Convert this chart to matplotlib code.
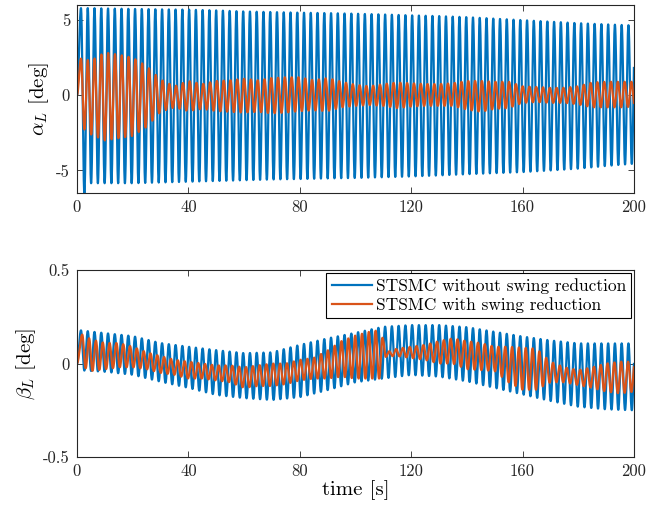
import numpy as np
import matplotlib
matplotlib.use("Agg")
import matplotlib.pyplot as plt

# ---- values ----
# alpha_L, without swing reduction (blue): peak / trough envelope [deg]
alpha_blue_t = [0, 3, 5, 10, 20, 30, 40, 50, 60, 70, 80, 90, 100, 110, 120, 130, 140, 150, 160, 170, 180, 190, 200]
alpha_blue_up = [5.8, 5.8, 5.8, 5.78, 5.75, 5.72, 5.7, 5.65, 5.58, 5.54, 5.5, 5.47, 5.43, 5.38, 5.32, 5.27, 5.2, 5.1, 5.0, 4.9, 4.8, 4.72, 4.65]
alpha_blue_lo = [-6.5, -6.5, -5.85, -5.85, -5.85, -5.8, -5.75, -5.7, -5.65, -5.6, -5.57, -5.53, -5.5, -5.45, -5.4, -5.33, -5.25, -5.18, -5.11, -5.0, -4.88, -4.7, -4.55]

# alpha_L, with swing reduction (orange)
alpha_or_t = list(range(0, 205, 5))
alpha_or_up = [2.5, 2.3, 2.85, 2.7, 2.5, 1.95, 1.05, 0.6, 0.95, 0.75, 0.95, 1.0, 1.1, 1.0, 1.15, 1.2, 1.2, 1.0, 1.15, 0.9, 0.7,
               0.6, 0.75, 0.85, 0.8, 0.75, 0.75, 0.8, 0.95, 0.95, 0.9, 0.9, 0.6, 0.55, 0.5, 0.5, 0.6, 0.85, 0.9, 0.9, 0.9]
alpha_or_lo = [-1.9, -2.6, -3.0, -2.85, -2.7, -2.1, -1.1, -0.8, -1.05, -0.9, -1.05, -1.1, -1.15, -1.1, -1.2, -1.15, -1.05, -1.0, -1.05, -0.8, -0.7,
               -0.65, -0.7, -0.85, -0.75, -0.7, -0.7, -0.7, -0.95, -1.1, -0.9, -0.85, -0.5, -0.45, -0.5, -0.5, -0.6, -0.8, -0.8, -0.8, -0.75]

# beta_L, without swing reduction (blue)
beta_blue_t = list(range(0, 210, 10))
beta_blue_up = [0.18, 0.163, 0.147, 0.11, 0.09, 0.072, 0.056, 0.06, 0.1, 0.135, 0.165, 0.197, 0.206, 0.206, 0.195, 0.17, 0.145, 0.124, 0.108, 0.108, 0.108]
beta_blue_lo = [-0.035, -0.044, -0.06, -0.097, -0.13, -0.168, -0.185, -0.195, -0.18, -0.142, -0.1, -0.08, -0.061, -0.07, -0.095, -0.13, -0.165, -0.2, -0.231, -0.245, -0.25]

# beta_L, with swing reduction (orange)
beta_or_t = [0, 5, 10, 15, 20, 25, 30, 35, 40, 45, 50, 55, 60, 65, 70, 75, 80, 85, 90, 95, 100, 105, 109,
             111, 115, 120, 125, 130, 135, 140, 145, 150, 155, 160, 165, 170, 175, 180, 185, 190, 195, 200]
beta_or_up = [0.17, 0.13, 0.11, 0.11, 0.09, 0.06, 0.04, 0.02, 0.01, 0.0, -0.01, -0.01, -0.02, -0.01, 0.0, 0.0, 0.02, 0.03, 0.07, 0.12, 0.15, 0.17, 0.18,
              0.06, 0.08, 0.09, 0.1, 0.12, 0.135, 0.12, 0.11, 0.09, 0.09, 0.085, 0.08, 0.01, -0.02, -0.035, -0.02, 0.0, 0.01, 0.01]
beta_or_lo = [0.0, -0.04, -0.03, -0.02, -0.02, -0.03, -0.05, -0.06, -0.08, -0.08, -0.09, -0.1, -0.13, -0.12, -0.12, -0.11, -0.09, -0.08, -0.08, -0.07, -0.08, -0.08, -0.08,
              0.04, 0.04, 0.03, 0.02, 0.0, 0.0, -0.03, -0.035, -0.04, -0.1, -0.14, -0.14, -0.1, -0.1, -0.115, -0.13, -0.15, -0.16, -0.15]

# oscillation period and time of the first peak [s]
period_blue = 2.427
period_orange = 2.44
first_peak_blue = 1.44
first_peak_orange = 1.45

x_ticks = [0, 40, 80, 120, 160, 200]
legend_labels = ["STSMC without swing reduction", "STSMC with swing reduction"]

blue = "#0072BD"
orange = "#D95319"


def wave(t, t_first, period, env_t, env_up, env_lo):
    # turning points every half period, values from the envelopes
    n = int((t[-1] - t_first) / (period / 2)) + 3
    tk = t_first + np.arange(n) * period / 2
    vk = np.where(np.arange(n) % 2 == 0, np.interp(tk, env_t, env_up), np.interp(tk, env_t, env_lo))
    tk = np.concatenate([[0.0], tk])
    vk = np.concatenate([[0.0], vk])
    idx = np.clip(np.searchsorted(tk, t, side="right") - 1, 0, len(tk) - 2)
    s = (t - tk[idx]) / (tk[idx + 1] - tk[idx])
    return vk[idx] + (vk[idx + 1] - vk[idx]) * (1 - np.cos(np.pi * s)) / 2


t = np.linspace(0, 200, 8001)
a_blue = wave(t, first_peak_blue, period_blue, alpha_blue_t, alpha_blue_up, alpha_blue_lo)
a_or = wave(t, first_peak_orange, period_orange, alpha_or_t, alpha_or_up, alpha_or_lo)
b_blue = wave(t, first_peak_blue, period_blue, beta_blue_t, beta_blue_up, beta_blue_lo)
b_or = wave(t, 1.9, 2.45, beta_or_t, beta_or_up, beta_or_lo)

plt.rcParams["font.family"] = "cmr10"
plt.rcParams["mathtext.fontset"] = "cm"
plt.rcParams["axes.unicode_minus"] = False
plt.rcParams["font.size"] = 12

fig = plt.figure(figsize=(6.67, 5.12), dpi=100)
ax1 = fig.add_axes([0.1154, 0.623, 0.835, 0.367])
ax2 = fig.add_axes([0.1154, 0.1074, 0.835, 0.365])

ax1.plot(t, a_blue, color=blue, lw=1.6)
ax1.plot(t, a_or, color=orange, lw=1.6)
ax1.set_xlim(0, 200)
ax1.set_ylim(-6.5, 6)
ax1.set_yticks([-5, 0, 5])
ax1.set_yticklabels(["-5", "0", "5"])
ax1.set_ylabel(r"$\alpha_L$ [deg]", fontsize=15, labelpad=4)

ax2.plot(t, b_blue, color=blue, lw=1.6, label=legend_labels[0])
ax2.plot(t, b_or, color=orange, lw=1.6, label=legend_labels[1])
ax2.set_xlim(0, 200)
ax2.set_ylim(-0.5, 0.5)
ax2.set_yticks([-0.5, 0, 0.5])
ax2.set_yticklabels(["-0.5", "0", "0.5"])
ax2.set_ylabel(r"$\beta_L$ [deg]", fontsize=15, labelpad=4)
ax2.set_xlabel("time [s]", fontsize=15, labelpad=1)
leg = ax2.legend(loc="upper right", fancybox=False, framealpha=1, edgecolor="black",
                 handlelength=2.3, handletextpad=0.25, borderaxespad=0.15,
                 borderpad=0.3, labelspacing=0.2, fontsize=12.5)
leg.get_frame().set_linewidth(0.8)

for ax in (ax1, ax2):
    ax.set_xticks(x_ticks)
    ax.set_xticklabels([str(v) for v in x_ticks])
    ax.tick_params(direction="in", top=True, right=True, length=4, width=0.6,
                   colors="#262626", labelcolor="#262626", pad=5)
    for sp in ax.spines.values():
        sp.set_linewidth(0.8)
        sp.set_color("#262626")

fig.savefig("out.png", dpi=100)
